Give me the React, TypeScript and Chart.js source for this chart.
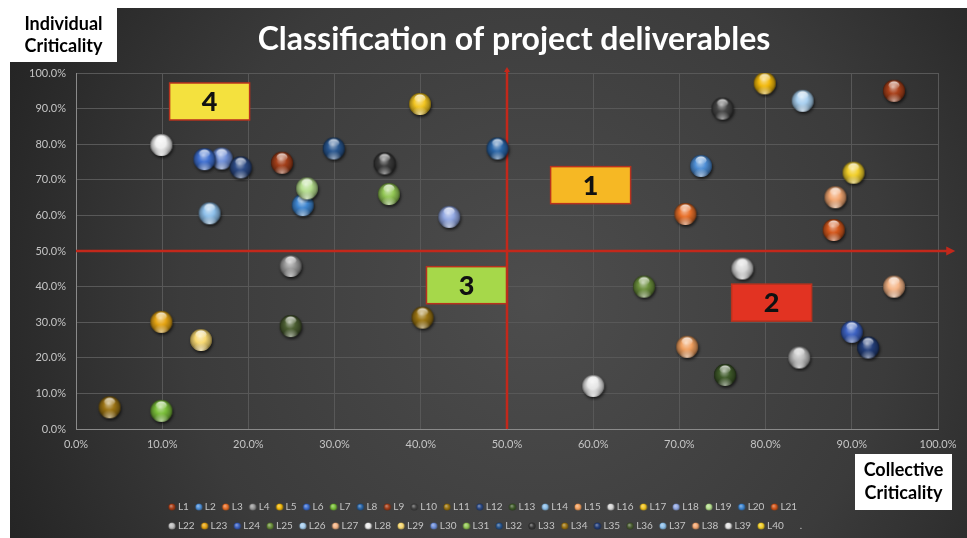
import React, { useEffect, useRef } from 'react';
import { Chart, registerables } from 'chart.js';

Chart.register(...registerables);

// ---------- data ----------
const seriesNames = [
  'L1', 'L2', 'L3', 'L4', 'L5', 'L6', 'L7', 'L8', 'L9', 'L10',
  'L11', 'L12', 'L13', 'L14', 'L15', 'L16', 'L17', 'L18', 'L19', 'L20',
  'L21', 'L22', 'L23', 'L24', 'L25', 'L26', 'L27', 'L28', 'L29', 'L30',
  'L31', 'L32', 'L33', 'L34', 'L35', 'L36', 'L37', 'L38', 'L39', 'L40',
];

// Collective criticality (x)
const collective: (number | null)[] = [
  0.949, 0.725, 0.707, 0.249, 0.799, 0.149, 0.099, 0.489, 0.239, 0.750,
  0.402, 0.191, 0.753, 0.155, 0.709, 0.773, 0.399, 0.433, 0.268, 0.263,
  0.879, 0.839, 0.099, 0.900, 0.659, 0.843, 0.949, 0.099, 0.145, 0.169,
  0.363, 0.299, 0.358, 0.039, 0.919, 0.249, null, 0.881, 0.600, 0.902,
];

// Individual criticality (y)
const individual: (number | null)[] = [
  0.950, 0.739, 0.604, 0.458, 0.971, 0.758, 0.051, 0.788, 0.748, 0.900,
  0.313, 0.735, 0.152, 0.606, 0.231, 0.451, 0.913, 0.596, 0.676, 0.629,
  0.559, 0.201, 0.301, 0.273, 0.400, 0.922, 0.400, 0.798, 0.250, 0.760,
  0.660, 0.788, 0.746, 0.061, 0.229, 0.289, null, 0.651, 0.121, 0.720,
];

const seriesColors = [
  '#a8401a', '#4f8fd6', '#e8702a', '#9a9a9a', '#f2b90c', '#3f6fcf', '#7bbf3a', '#2a66a8', '#a33f1a', '#454545',
  '#9a7412', '#2c4a85', '#3f5a2a', '#8ec0ea', '#f0a060', '#d8d8d8', '#f2c522', '#93a9e3', '#b5de8e', '#3f86d0',
  '#d2571c', '#bdbdbd', '#e6a514', '#3d62c2', '#6b8f3c', '#a9d0f0', '#f5b587', '#efefef', '#f7d872', '#6f8fd8',
  '#93c755', '#28568f', '#3a3a3a', '#9c7414', '#243f7a', '#4b5e32', '#8ec0ea', '#f3a772', '#e6e6e6', '#f2cf2a',
];

const legendTail = '.';

const axisMin = 0;
const axisMax = 1;
const axisStep = 0.1;
const dividerValue = 0.5;
const arrowReachX = 1.02;
const arrowReachY = 1.017;

const quadrantLabels = ['1', '2', '3', '4'];
const quadrantX = [0.597, 0.807, 0.453, 0.155];
const quadrantY = [0.685, 0.355, 0.404, 0.920];
const quadrantFill = ['#f6b824', '#e23322', '#a6d84a', '#f4e13e'];

const titleText = 'Classification of project deliverables';
const yAxisTitle = ['Individual', 'Criticality'];
const xAxisTitle = ['Collective', 'Criticality'];

// ---------- helpers ----------
const FONT = 'Lato, "Open Sans", "DejaVu Sans", sans-serif';
const tickColor = '#c4c4c4';

function hexToRgb(h: string): number[] {
  const n = parseInt(h.slice(1), 16);
  return [(n >> 16) & 255, (n >> 8) & 255, n & 255];
}
function mix(c: number[], t: number[], a: number): number[] {
  return c.map((v, i) => Math.round(v + (t[i] - v) * a));
}
function rgba(c: number[], a = 1): string {
  return `rgba(${c[0]},${c[1]},${c[2]},${a})`;
}

function buildSphere(hex: string, r: number): HTMLCanvasElement {
  const pad = 4;
  const size = Math.ceil(2 * r + 2 * pad);
  const cv = document.createElement('canvas');
  cv.width = size;
  cv.height = size;
  const g = cv.getContext('2d') as CanvasRenderingContext2D;
  const cx = size / 2;
  const cy = size / 2;
  const base = hexToRgb(hex);
  const white = [255, 255, 255];
  const black = [0, 0, 0];
  g.save();
  g.shadowColor = 'rgba(0,0,0,0.65)';
  g.shadowBlur = 3;
  g.shadowOffsetX = 1;
  g.shadowOffsetY = 2;
  g.beginPath();
  g.arc(cx, cy, r, 0, Math.PI * 2);
  g.fillStyle = rgba(mix(base, black, 0.5));
  g.fill();
  g.restore();
  const body = g.createRadialGradient(cx - r * 0.1, cy - r * 0.35, r * 0.05, cx, cy, r);
  body.addColorStop(0, rgba(mix(base, white, 0.5)));
  body.addColorStop(0.45, rgba(base));
  body.addColorStop(0.85, rgba(mix(base, black, 0.3)));
  body.addColorStop(1, rgba(mix(base, black, 0.55)));
  g.beginPath();
  g.arc(cx, cy, r, 0, Math.PI * 2);
  g.fillStyle = body;
  g.fill();
  g.save();
  g.beginPath();
  g.arc(cx, cy, r, 0, Math.PI * 2);
  g.clip();
  const refl = g.createRadialGradient(cx, cy + r * 0.95, 0, cx, cy + r * 0.95, r * 0.75);
  refl.addColorStop(0, rgba(mix(base, white, 0.6), 0.9));
  refl.addColorStop(1, rgba(mix(base, white, 0.6), 0));
  g.fillStyle = refl;
  g.fillRect(0, 0, size, size);
  g.restore();
  const hl = g.createLinearGradient(0, cy - r * 0.9, 0, cy - r * 0.15);
  hl.addColorStop(0, 'rgba(255,255,255,0.85)');
  hl.addColorStop(1, 'rgba(255,255,255,0)');
  g.beginPath();
  g.ellipse(cx, cy - r * 0.5, r * 0.5, r * 0.36, 0, 0, Math.PI * 2);
  g.fillStyle = hl;
  g.fill();
  return cv;
}

function buildDot(hex: string, r: number): HTMLCanvasElement {
  const size = Math.ceil(2 * r + 2);
  const cv = document.createElement('canvas');
  cv.width = size;
  cv.height = size;
  const g = cv.getContext('2d') as CanvasRenderingContext2D;
  const c = size / 2;
  const base = hexToRgb(hex);
  const grad = g.createRadialGradient(c - r * 0.3, c - r * 0.35, 0, c, c, r);
  grad.addColorStop(0, rgba(mix(base, [255, 255, 255], 0.45)));
  grad.addColorStop(0.6, rgba(base));
  grad.addColorStop(1, rgba(mix(base, [0, 0, 0], 0.35)));
  g.beginPath();
  g.arc(c, c, r, 0, Math.PI * 2);
  g.fillStyle = grad;
  g.fill();
  return cv;
}

const pct = (v: number | string) => (Number(v) * 100).toFixed(1) + '%';

export default function App() {
  const ref = useRef<HTMLCanvasElement>(null);

  useEffect(() => {
    const canvas = ref.current;
    if (!canvas) return;

    const spheres = seriesColors.map((c) => buildSphere(c, 11));
    const legendDots = seriesColors.map((c) => buildDot(c, 3.6));
    const blank = document.createElement('canvas');
    blank.width = 1;
    blank.height = 1;

    const datasets = seriesNames.map((name, i) => ({
      label: name,
      data:
        collective[i] == null || individual[i] == null
          ? []
          : [{ x: collective[i] as number, y: individual[i] as number }],
      pointStyle: spheres[i],
      pointRadius: 11,
      pointHoverRadius: 11,
      backgroundColor: seriesColors[i],
      borderColor: seriesColors[i],
    }));

    const rowBreak = 21;
    const titleShift = 7;

    const backgroundPlugin = {
      id: 'bgAndLegendRows',
      beforeDraw(chart: any) {
        const { ctx, width, height } = chart;
        ctx.save();
        const g = ctx.createRadialGradient(width * 0.55, height * 0.55, 0, width * 0.55, height * 0.55, width * 0.62);
        g.addColorStop(0, '#4d4d4d');
        g.addColorStop(0.6, '#3b3b3b');
        g.addColorStop(1, '#232323');
        ctx.fillStyle = g;
        ctx.fillRect(0, 0, width, height);
        ctx.restore();

        const tb = chart.titleBlock;
        if (tb) {
          tb.left = chart.chartArea.left + titleShift;
          tb.right = chart.chartArea.right + titleShift;
        }

        const lg = chart.legend;
        if (lg && lg.legendHitBoxes && lg.legendHitBoxes.length) {
          const pad = lg.options.labels.padding;
          let s1 = 0;
          let s2 = 0;
          lg.legendHitBoxes.forEach((b: any, i: number) => {
            if (i < rowBreak) s1 += b.width + pad;
            else s2 += b.width + pad;
          });
          const span = Math.max(s1, s2);
          const start = (width - s1) / 2;
          lg.left = start - pad;
          lg.right = start + span + 1;
        }
      },
    };

    const dividerPlugin = {
      id: 'dividers',
      beforeDatasetsDraw(chart: any) {
        const { ctx } = chart;
        const xs = chart.scales.x;
        const ys = chart.scales.y;
        const xm = xs.getPixelForValue(dividerValue);
        const ym = ys.getPixelForValue(dividerValue);
        const x0 = xs.getPixelForValue(axisMin);
        const xe = xs.getPixelForValue(arrowReachX);
        const y0 = ys.getPixelForValue(axisMin);
        const ye = ys.getPixelForValue(arrowReachY);
        ctx.save();
        ctx.strokeStyle = '#c3281b';
        ctx.fillStyle = '#c3281b';
        ctx.lineWidth = 2.5;
        ctx.beginPath();
        ctx.moveTo(x0, ym);
        ctx.lineTo(xe - 7, ym);
        ctx.stroke();
        ctx.beginPath();
        ctx.moveTo(xe, ym);
        ctx.lineTo(xe - 9, ym - 4.5);
        ctx.lineTo(xe - 9, ym + 4.5);
        ctx.closePath();
        ctx.fill();
        ctx.beginPath();
        ctx.moveTo(xm, y0);
        ctx.lineTo(xm, ye + 4);
        ctx.stroke();
        ctx.beginPath();
        ctx.moveTo(xm, ye);
        ctx.lineTo(xm - 3, ye + 5);
        ctx.lineTo(xm + 3, ye + 5);
        ctx.closePath();
        ctx.fill();
        ctx.restore();
      },
    };

    const quadrantPlugin = {
      id: 'quadrants',
      afterDatasetsDraw(chart: any) {
        const { ctx } = chart;
        const xs = chart.scales.x;
        const ys = chart.scales.y;
        const w = 80;
        const h = 37;
        ctx.save();
        quadrantLabels.forEach((lab, i) => {
          const cx = xs.getPixelForValue(quadrantX[i]);
          const cy = ys.getPixelForValue(quadrantY[i]);
          ctx.fillStyle = quadrantFill[i];
          ctx.fillRect(cx - w / 2, cy - h / 2, w, h);
          ctx.strokeStyle = '#b8321e';
          ctx.lineWidth = 1.5;
          ctx.strokeRect(cx - w / 2, cy - h / 2, w, h);
          ctx.fillStyle = '#111111';
          ctx.font = `900 27px ${FONT}`;
          ctx.textAlign = 'center';
          ctx.textBaseline = 'middle';
          ctx.fillText(lab, cx, cy + 1);
        });
        ctx.restore();
      },
    };

    const axisTitlePlugin = {
      id: 'axisTitles',
      afterDraw(chart: any) {
        const { ctx } = chart;
        ctx.save();
        ctx.fillStyle = '#ffffff';
        ctx.fillRect(0, 0, 107, 54);
        ctx.fillRect(845, 446, 97, 56);
        ctx.fillStyle = '#000000';
        ctx.font = `bold 18px ${FONT}`;
        ctx.textAlign = 'center';
        ctx.textBaseline = 'middle';
        ctx.fillText(yAxisTitle[0], 53.5, 16);
        ctx.fillText(yAxisTitle[1], 53.5, 38);
        ctx.fillText(xAxisTitle[0], 893.5, 462);
        ctx.fillText(xAxisTitle[1], 893.5, 485);
        ctx.restore();
      },
    };

    const chart = new Chart(canvas, {
      type: 'scatter',
      data: { datasets },
      options: {
        responsive: false,
        maintainAspectRatio: false,
        animation: false,
        events: [],
        layout: { padding: { left: 0, top: 0, right: 29, bottom: -3 } },
        scales: {
          x: {
            type: 'linear',
            min: axisMin,
            max: axisMax,
            ticks: {
              stepSize: axisStep,
              callback: (v: any) => pct(v),
              color: tickColor,
              font: { family: FONT, size: 11 },
              padding: 9,
              maxRotation: 0,
            },
            grid: { color: '#585858', lineWidth: 1, drawTicks: false },
            border: { color: '#8a8a8a', width: 1 },
            afterFit: (s: any) => {
              s.height = 64;
            },
          },
          y: {
            type: 'linear',
            min: axisMin,
            max: axisMax,
            ticks: {
              stepSize: axisStep,
              callback: (v: any) => pct(v),
              color: tickColor,
              font: { family: FONT, size: 11 },
              padding: 10,
            },
            grid: { color: '#585858', lineWidth: 1, drawTicks: false },
            border: { color: '#8a8a8a', width: 1 },
            afterFit: (s: any) => {
              s.width = 66;
            },
          },
        },
        plugins: {
          tooltip: { enabled: false },
          title: {
            display: true,
            text: titleText,
            color: '#ffffff',
            fullSize: false,
            font: { family: FONT, size: 32, weight: 'bold' },
            padding: { top: 12, bottom: 14.6 },
          },
          legend: {
            display: true,
            position: 'bottom',
            align: 'start',
            labels: {
              usePointStyle: true,
              pointStyleWidth: 2,
              padding: 9,
              color: tickColor,
              font: { family: FONT, size: 10 },
              generateLabels: () => {
                const items: any[] = seriesNames.map((name, i) => ({
                  text: name,
                  fillStyle: seriesColors[i],
                  strokeStyle: seriesColors[i],
                  lineWidth: 0,
                  hidden: false,
                  pointStyle: legendDots[i],
                  datasetIndex: i,
                  fontColor: tickColor,
                }));
                items.push({
                  text: legendTail,
                  fillStyle: 'transparent',
                  strokeStyle: 'transparent',
                  lineWidth: 0,
                  hidden: false,
                  pointStyle: blank,
                  fontColor: tickColor,
                });
                return items;
              },
            },
          },
        },
      } as any,
      plugins: [backgroundPlugin, dividerPlugin, quadrantPlugin, axisTitlePlugin],
    });

    return () => chart.destroy();
  }, []);

  return (
    <div style={{ position: 'fixed', left: 10, top: 8, width: 957, height: 530 }}>
      <canvas ref={ref} width={957} height={530} style={{ width: 957, height: 530, display: 'block' }} />
    </div>
  );
}
